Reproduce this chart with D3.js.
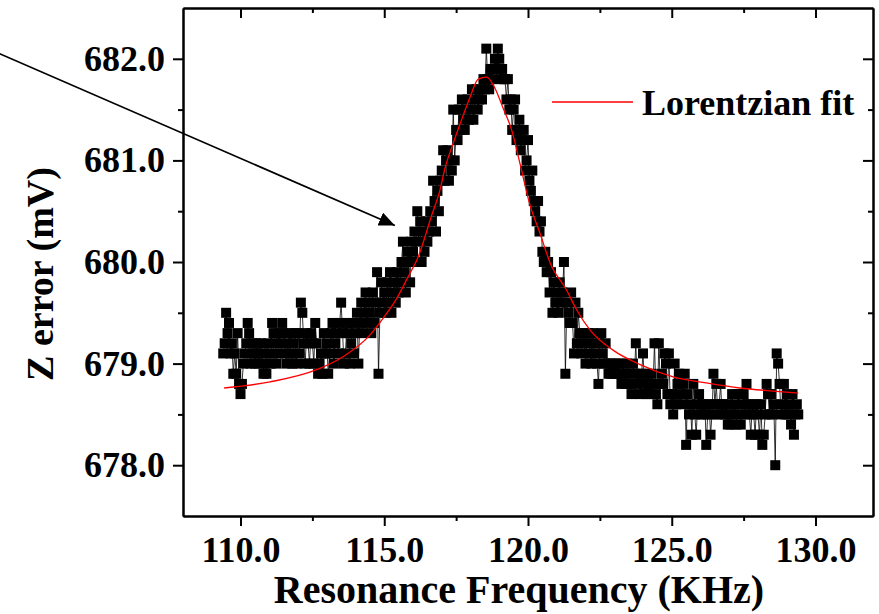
<!DOCTYPE html>
<html>
<head>
<meta charset="utf-8">
<script src="https://cdn.jsdelivr.net/npm/d3@7/dist/d3.min.js"></script>
<style>
  body { margin: 0; background: #fff; }
  svg text { font-family: "Liberation Serif", "Times New Roman", serif; font-weight: bold; fill: #000; }
  .axis path, .axis line { stroke: #000; stroke-width: 2; }
</style>
</head>
<body>
<div id="chart"></div>
<script>
// sweep: 109.40 .. 129.40 KHz, one reading every 0.05 KHz
var freqStart = 109.4, freqStep = 0.05;

// Z error readings (mV), one row per KHz
var zError = [
  679.1, 679.2, 679.5, 679.3, 679.4, 679.1, 679.2, 678.9, 679.1, 678.9, 679.3, 678.8,
  678.7, 678.8, 679.0, 679.1, 679.2, 679.4, 679.3, 679.0, 679.2, 679.1, 679.0, 679.2, 679.1, 679.0, 679.2, 679.1, 678.9, 679.0, 678.9, 679.2,
  679.1, 679.0, 679.4, 679.3, 679.2, 679.0, 679.1, 679.3, 679.2, 679.4, 679.3, 679.1, 679.0, 679.2, 679.3, 679.1, 679.0, 679.2, 679.3, 679.0,
  679.3, 679.1, 679.6, 679.5, 679.2, 679.0, 679.3, 679.2, 679.0, 679.3, 679.2, 679.0, 679.4, 679.2, 678.9, 679.0, 679.1, 678.9, 679.3, 679.1,
  679.2, 678.9, 679.1, 679.3, 679.4, 679.0, 679.2, 679.3, 679.1, 679.4, 679.6, 679.3, 679.0, 679.1, 679.4, 679.3, 679.0, 679.2, 679.4, 679.1,
  679.3, 679.5, 679.0, 679.4, 679.6, 679.3, 679.5, 679.7, 679.4, 679.6, 679.5, 679.3, 679.7, 679.4, 679.6, 679.9, 678.9, 679.5, 679.8, 679.6,
  679.7, 679.5, 679.8, 679.6, 679.9, 679.5, 679.7, 679.8, 679.6, 679.9, 679.7, 679.8, 680.0, 680.2, 679.9, 679.7, 680.1, 680.0, 679.8, 680.2,
  680.1, 680.3, 680.0, 680.5, 680.2, 680.4, 680.0, 680.3, 680.1, 680.4, 680.2, 680.3, 680.5, 680.4, 680.8, 680.6, 680.3, 680.7, 680.5, 680.8,
  680.9, 681.1, 680.8, 681.0, 681.1, 680.8, 681.0, 680.9, 681.5, 681.0, 681.3, 681.2, 681.5, 681.3, 681.6, 681.4, 681.3, 681.5, 681.6, 681.4,
  681.5, 681.7, 681.4, 681.6, 681.7, 681.5, 681.6, 681.7, 681.6, 681.8, 681.7, 682.1, 681.8, 681.7, 681.9, 681.8, 681.9, 682.0, 681.9, 682.1,
  682.0, 681.8, 681.9, 681.8, 681.8, 681.6, 681.8, 681.5, 681.6, 681.3, 681.5, 681.6, 681.2, 681.3, 681.4, 681.1, 681.2, 681.3, 680.9, 681.0,
  681.2, 680.8, 680.7, 680.9, 680.6, 680.5, 680.4, 680.6, 680.3, 680.4, 680.1, 680.0, 680.1, 679.9, 680.0, 679.7, 679.9, 679.5, 679.8, 679.6,
  679.7, 679.5, 679.8, 679.6, 679.7, 680.0, 678.9, 679.6, 679.5, 679.4, 679.7, 679.4, 679.1, 679.6, 679.2, 679.5, 679.3, 679.1, 679.2, 679.3,
  679.0, 679.2, 679.3, 679.1, 679.0, 679.3, 679.2, 679.1, 679.0, 678.8, 679.2, 679.3, 679.1, 679.0, 679.2, 679.0, 678.9, 679.0, 678.9, 679.0,
  678.9, 679.0, 678.9, 679.0, 678.9, 678.8, 679.0, 678.9, 678.8, 679.0, 678.9, 678.8, 678.7, 679.0, 678.9, 679.2, 678.8, 678.9, 678.7, 678.9,
  679.1, 678.8, 678.7, 678.9, 678.8, 678.7, 678.9, 678.8, 679.2, 678.7, 678.6, 679.2, 678.8, 678.9, 678.8, 679.1, 679.0, 678.7, 679.1, 678.6,
  678.7, 678.5, 679.0, 678.6, 678.8, 678.9, 678.7, 678.6, 678.8, 678.9, 678.2, 678.7, 678.5, 678.6, 678.3, 678.8, 678.5, 678.3, 678.6, 678.7,
  678.5, 678.6, 678.5, 678.6, 678.2, 678.5, 678.6, 678.3, 678.5, 678.9, 678.6, 678.8, 678.5, 678.6, 678.8, 678.5, 678.6, 678.5, 678.6, 678.4,
  678.5, 678.4, 678.7, 678.5, 678.6, 678.4, 678.7, 678.5, 678.4, 678.6, 678.7, 678.5, 678.8, 678.6, 678.5, 678.3, 678.6, 678.5, 678.3, 678.6,
  678.5, 678.3, 678.6, 678.2, 678.3, 678.5, 678.8, 678.7, 678.5, 678.7, 678.5, 678.6, 678.0, 679.1, 679.0, 678.8, 678.5, 678.6, 678.8, 678.5,
  678.7, 678.5, 678.6, 678.4, 678.7, 678.3, 678.5, 678.6, 678.5
];

// Lorentzian fit curve
var fitFreq = [109.43, 111.03, 112.65, 113.58, 114.5, 114.97, 115.43, 115.84, 116.18, 116.65, 116.94, 117.11,
               117.4, 117.69, 117.98, 118.27, 118.56, 118.85, 119.14, 119.43, 119.72, 120.07, 120.42, 120.77,
               121.35, 121.69, 122.16, 122.97, 123.9, 125.05, 126.2, 127.37, 128.53, 129.4];
var fitZ = [678.76, 678.82, 678.94, 679.07, 679.28, 679.45, 679.64, 679.86, 680.05, 680.46, 680.71, 680.92,
            681.17, 681.40, 681.62, 681.80, 681.82, 681.71, 681.51, 681.30, 680.97, 680.56, 680.28, 679.99,
            679.72, 679.53, 679.33, 679.13, 678.99, 678.87, 678.81, 678.76, 678.73, 678.71];

var xTicks = [110, 115, 120, 125, 130];
var xMinor = [112.5, 117.5, 122.5, 127.5];
var yTicks = [678, 679, 680, 681, 682];
var yMinor = [678.5, 679.5, 680.5, 681.5];

var xTitle = 'Resonance Frequency (KHz)';
var yTitle = 'Z error (mV)';
var fitName = 'Lorentzian fit';

// annotation arrow, in data units (starts off the left edge)
var arrowFrom = [101.3, 682.09];
var arrowTo = [115.37, 680.36];

var W = 879, H = 614;
var pLeft = 183, pRight = 873, pTop = 8, pBottom = 516;

var svg = d3.select('#chart').append('svg')
    .attr('width', W)
    .attr('height', H);

var x = d3.scaleLinear().domain([108, 132]).range([pLeft, pRight]);
var y = d3.scaleLinear().domain([677.5, 682.5]).range([pBottom, pTop]);

var pts = zError.map(function(z, i) { return { f: freqStart + i * freqStep, z: z }; });

// data: squares + thin connecting line
var plot = svg.append('g');
var sq = 10;
plot.selectAll('rect.pt')
    .data(pts)
    .enter().append('rect')
    .attr('class', 'pt')
    .attr('x', function(d) { return x(d.f) - sq / 2; })
    .attr('y', function(d) { return y(d.z) - sq / 2; })
    .attr('width', sq)
    .attr('height', sq)
    .attr('fill', '#000');

plot.append('path')
    .datum(pts)
    .attr('fill', 'none')
    .attr('stroke', '#000')
    .attr('stroke-width', 0.8)
    .attr('d', d3.line().x(function(d) { return x(d.f); }).y(function(d) { return y(d.z); }));

// fit
plot.append('path')
    .datum(fitFreq.map(function(f, i) { return [f, fitZ[i]]; }))
    .attr('fill', 'none')
    .attr('stroke', '#ff0000')
    .attr('stroke-width', 1.3)
    .attr('d', d3.line().curve(d3.curveMonotoneX)
        .x(function(d) { return x(d[0]); }).y(function(d) { return y(d[1]); }));

// axes
var fmt = d3.format('.1f');
function noLabel() { return ''; }

svg.append('g').attr('class', 'axis')
    .attr('transform', `translate(0, ${pBottom})`)
    .call(d3.axisBottom(x).tickValues(xTicks).tickFormat(fmt).tickSize(10).tickSizeOuter(0).tickPadding(10))
    .selectAll('text').style('font-size', '36px');
svg.append('g').attr('class', 'axis')
    .attr('transform', `translate(0, ${pBottom})`)
    .call(d3.axisBottom(x).tickValues(xMinor).tickFormat(noLabel).tickSize(5).tickSizeOuter(0));

svg.append('g').attr('class', 'axis')
    .attr('transform', `translate(${pLeft}, 0)`)
    .call(d3.axisLeft(y).tickValues(yTicks).tickFormat(fmt).tickSize(10).tickSizeOuter(0).tickPadding(8))
    .selectAll('text').style('font-size', '36px');
svg.append('g').attr('class', 'axis')
    .attr('transform', `translate(${pLeft}, 0)`)
    .call(d3.axisLeft(y).tickValues(yMinor).tickFormat(noLabel).tickSize(5).tickSizeOuter(0));

// mirror axes, ticks pointing in
svg.append('g').attr('class', 'axis')
    .attr('transform', `translate(0, ${pTop})`)
    .call(d3.axisTop(x).tickValues(xTicks).tickFormat(noLabel).tickSize(-10).tickSizeOuter(0));
svg.append('g').attr('class', 'axis')
    .attr('transform', `translate(0, ${pTop})`)
    .call(d3.axisTop(x).tickValues(xMinor).tickFormat(noLabel).tickSize(-5).tickSizeOuter(0));
svg.append('g').attr('class', 'axis')
    .attr('transform', `translate(${pRight}, 0)`)
    .call(d3.axisRight(y).tickValues(yTicks).tickFormat(noLabel).tickSize(-10).tickSizeOuter(0));
svg.append('g').attr('class', 'axis')
    .attr('transform', `translate(${pRight}, 0)`)
    .call(d3.axisRight(y).tickValues(yMinor).tickFormat(noLabel).tickSize(-5).tickSizeOuter(0));

// titles
svg.append('text')
    .attr('x', 519)
    .attr('y', 603)
    .attr('text-anchor', 'middle')
    .style('font-size', '40px')
    .text(xTitle);

svg.append('text')
    .attr('transform', 'translate(53, 274) rotate(-90)')
    .attr('text-anchor', 'middle')
    .style('font-size', '38px')
    .text(yTitle);

// legend
var legend = svg.append('g').attr('transform', 'translate(552, 102)');
legend.append('line')
    .attr('x1', 0).attr('x2', 81)
    .attr('y1', 0).attr('y2', 0)
    .attr('stroke', '#ff0000')
    .attr('stroke-width', 1.3);
legend.append('text')
    .attr('x', 90)
    .attr('y', 12.5)
    .style('font-size', '36px')
    .text(fitName);

// arrow
svg.append('defs').append('marker')
    .attr('id', 'head')
    .attr('markerUnits', 'userSpaceOnUse')
    .attr('markerWidth', 18)
    .attr('markerHeight', 14)
    .attr('refX', 16)
    .attr('refY', 7)
    .attr('orient', 'auto')
    .append('path')
    .attr('d', 'M0,0 L16,7 L0,14 Z')
    .attr('fill', '#000');

svg.append('line')
    .attr('x1', x(arrowFrom[0])).attr('y1', y(arrowFrom[1]))
    .attr('x2', x(arrowTo[0])).attr('y2', y(arrowTo[1]))
    .attr('stroke', '#000')
    .attr('stroke-width', 1.7)
    .attr('marker-end', 'url(#head)');
</script>
</body>
</html>
